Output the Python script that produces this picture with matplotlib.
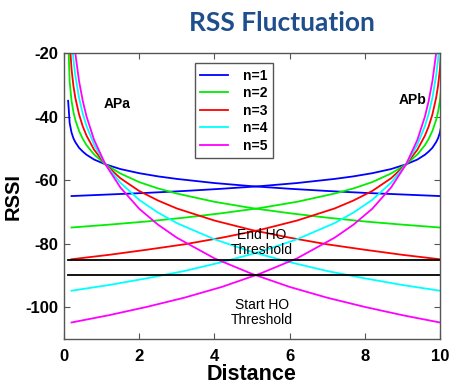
import matplotlib
matplotlib.use('Agg')
import matplotlib.pyplot as plt

############################
# RSSI, same values for both access points
# (the APb curves are the mirror image of the APa curves)

DIST_APA = [0.11, 0.15, 0.2, 0.25, 0.3, 0.4, 0.5, 0.6, 0.8, 1.1, 1.5,
            2.0, 2.5, 3.0, 4.0, 5.0, 6.0, 7.0, 8.0, 9.0, 10.0]
DIST_APB = [10.09, 10.05, 10.0, 9.95, 9.9, 9.8, 9.7, 9.6, 9.4, 9.1, 8.7,
            8.2, 7.7, 7.2, 6.2, 5.2, 4.2, 3.2, 2.2, 1.2, 0.2]

RSS_N1 = [-35, -42, -45, -46.8, -48, -49.8, -51, -52, -53.5, -55, -56.5,
          -57.8, -58.8, -59.6, -60.9, -61.9, -62.7, -63.4, -64, -64.5, -65]
RSS_N2 = [-15, -29, -35, -38.5, -41, -44.5, -47, -49, -51.9, -55, -57.9,
          -60.6, -62.6, -64.2, -66.8, -68.8, -70.4, -71.8, -73, -74, -74.9]
RSS_N3 = [5, -16, -25, -30.3, -34, -39.3, -43.1, -46, -50.4, -55, -59.4,
          -63.4, -66.4, -68.9, -72.7, -75.7, -78.1, -80.2, -81.9, -83.5, -84.9]
RSS_N4 = [25, -3, -15, -22, -27, -34.1, -39.1, -43, -48.8, -55, -60.8,
          -66.2, -70.2, -73.5, -78.6, -82.6, -85.8, -88.6, -90.9, -93, -94.8]
RSS_N5 = [45, 10, -5, -13.8, -20, -28.8, -35.1, -40, -47.3, -55, -62.3,
          -69, -74, -78.1, -84.6, -89.5, -93.6, -97, -99.9, -102.5, -104.8]

LABELS = ['n=1', 'n=2', 'n=3', 'n=4', 'n=5']
COLORS = ['#0000ff', '#00ee00', '#ff0000', '#00ffff', '#ff00ff']

THRESHOLD_X = [0.1, 10]
END_HO = -85
START_HO = -90

plt.rcParams['font.family'] = ['Liberation Sans', 'DejaVu Sans']
plt.rcParams['axes.unicode_minus'] = False


def main():
    fig = plt.figure(figsize=(4.54, 3.85), dpi=100)
    ax = fig.add_axes([0.141, 0.1195, 0.828, 0.7425])

    series = [RSS_N1, RSS_N2, RSS_N3, RSS_N4, RSS_N5]
    for rss, color, label in zip(series, COLORS, LABELS):
        ax.plot(DIST_APA, rss, color=color, lw=1.3, label=label)
        ax.plot(DIST_APB, rss, color=color, lw=1.3)

    # handover thresholds
    ax.plot(THRESHOLD_X, [END_HO, END_HO], color='black', lw=1.3)
    ax.plot(THRESHOLD_X, [START_HO, START_HO], color='black', lw=1.3)

    ax.text(1.41, -36.1, 'APa', fontsize=10, fontweight='bold',
            ha='center', va='center')
    ax.text(9.26, -34.8, 'APb', fontsize=10, fontweight='bold',
            ha='center', va='center')
    ax.text(5.27, -79.5, 'End HO\nThreshold', fontsize=10,
            ha='center', va='center', linespacing=1.1)
    ax.text(5.27, -101.7, 'Start HO\nThreshold', fontsize=10,
            ha='center', va='center', linespacing=1.1)

    ax.set_xlim(0, 10)
    ax.set_ylim(-110, -20)
    ax.set_xticks([0, 2, 4, 6, 8, 10])
    ax.set_yticks([-100, -80, -60, -40, -20])
    ax.tick_params(direction='in', top=True, right=True, length=4,
                   width=0.8, color='#555555', labelsize=12)
    ax.tick_params(axis='x', pad=7)
    ax.tick_params(axis='y', pad=4)
    for lab in ax.get_xticklabels() + ax.get_yticklabels():
        lab.set_fontweight('bold')
    for sp in ax.spines.values():
        sp.set_color('#555555')
        sp.set_linewidth(1.0)

    ax.set_xlabel('Distance', fontsize=15.5, fontweight='bold', labelpad=0)
    ax.set_ylabel('RSSI', fontsize=14.5, fontweight='bold', labelpad=2)

    leg = ax.legend(loc='upper left', bbox_to_anchor=(0.348, 0.965),
                    borderaxespad=0, fancybox=False, framealpha=1,
                    edgecolor='#555555', handlelength=2.0,
                    handletextpad=1.1, labelspacing=0.25,
                    prop={'size': 10, 'weight': 'bold'})
    leg.get_frame().set_linewidth(1.0)

    fig.text(282 / 454, 1 - 23 / 385, 'RSS Fluctuation', fontsize=19,
             fontweight='bold', color='#1f4e8c', family=['Lato', 'DejaVu Sans'],
             ha='center', va='center')

    fig.savefig('out.png', dpi=100)


if __name__ == "__main__":
    main()
